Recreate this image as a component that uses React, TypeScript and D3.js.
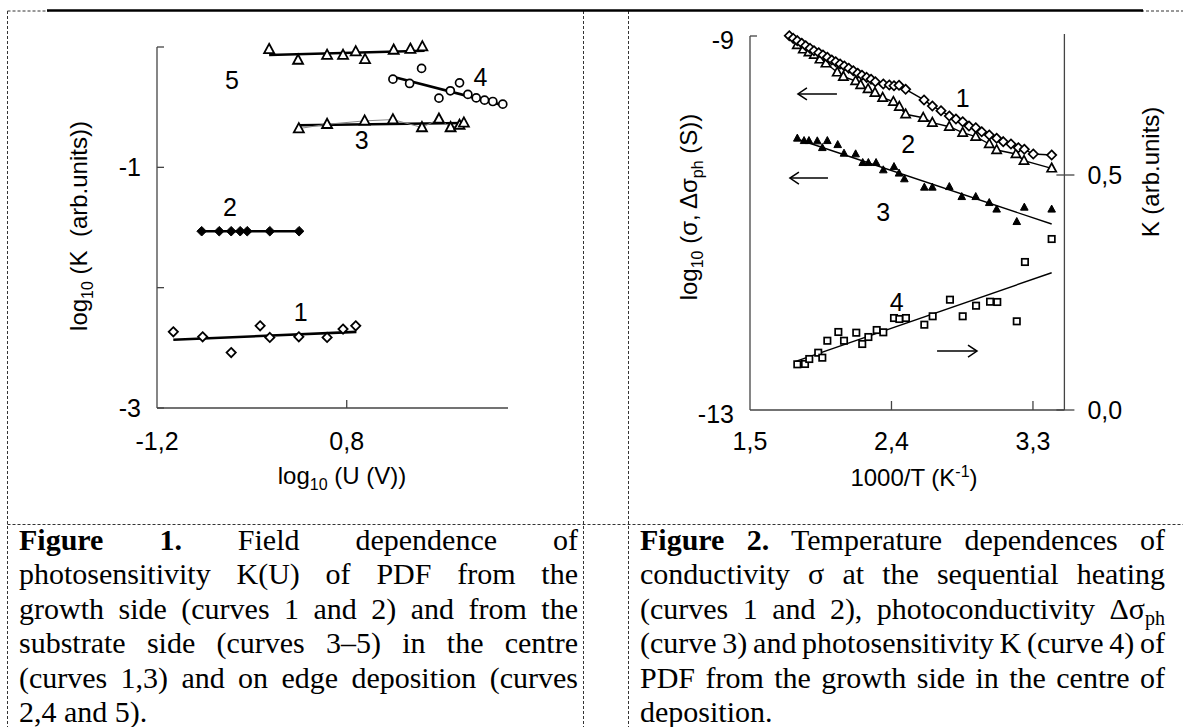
import React, { useEffect, useRef } from "react";
import * as d3 from "d3";

type P = [number, number];

// ---------------- Figure 1: log10 K vs log10 U ----------------
const fig1XTickLabels = [-1.2, 0.8];
const fig1YTicks = [-3, -2, -1, 0];
const fig1YTickLabels = [-3, -1];

const fig1Curve1: P[] = [[-1.028, -2.367], [-0.719, -2.408], [-0.418, -2.539], [-0.113, -2.317], [-0.011, -2.414], [0.295, -2.408], [0.593, -2.414], [0.761, -2.344], [0.895, -2.317]];
const fig1Fit1: P[] = [[-1.028, -2.433], [0.902, -2.367]];
const fig1Curve2: P[] = [[-0.729, -1.531], [-0.544, -1.531], [-0.418, -1.531], [-0.323, -1.531], [-0.249, -1.531], [-0.011, -1.531], [0.298, -1.531]];
const fig1Curve3: P[] = [[0.295, -0.678], [0.593, -0.642], [0.989, -0.614], [1.287, -0.603], [1.593, -0.669], [1.772, -0.598], [1.895, -0.669], [1.989, -0.65], [2.035, -0.631]];
const fig1Fit3: P[] = [[0.295, -0.65], [2.024, -0.631]];
const fig1Curve4: P[] = [[1.287, -0.267], [1.463, -0.303], [1.589, -0.178], [1.772, -0.425], [1.892, -0.364], [1.989, -0.298], [2.077, -0.394], [2.165, -0.423], [2.253, -0.442], [2.34, -0.453], [2.445, -0.475]];
const fig1Fit4: P[] = [[1.287, -0.248], [2.445, -0.483]];
const fig1Curve5: P[] = [[-0.018, -0.019], [0.287, -0.108], [0.593, -0.067], [0.761, -0.067], [0.895, -0.039], [0.993, -0.103], [1.295, -0.025], [1.471, -0.017], [1.597, 0.003]];
const fig1Fit5: P[] = [[-0.018, -0.067], [1.621, -0.031]];
const fig1CurveLabels = ["1", "2", "3", "4", "5"];
const fig1LabelPos: P[] = [[0.316, -2.2], [-0.432, -1.333], [0.958, -0.775], [2.21, -0.25], [-0.411, -0.275]];

// ---------------- Figure 2: temperature dependences ----------------
const fig2XTickLabels = [1.5, 2.4, 3.3];
const fig2YLeftTicks = [-13, -9];
const fig2YRightTicks = [0, 0.5];

const fig2Curve1: P[] = [[1.75, -8.997], [1.775, -9.025], [1.801, -9.05], [1.829, -9.078], [1.854, -9.104], [1.882, -9.132], [1.907, -9.157], [1.937, -9.179], [1.964, -9.203], [1.992, -9.228], [2.02, -9.257], [2.045, -9.275], [2.073, -9.299], [2.1, -9.321], [2.128, -9.345], [2.157, -9.371], [2.185, -9.399], [2.212, -9.42], [2.242, -9.442], [2.27, -9.463], [2.297, -9.489], [2.348, -9.513], [2.386, -9.524], [2.416, -9.532], [2.448, -9.527], [2.49, -9.57], [2.607, -9.684], [2.66, -9.749], [2.715, -9.799], [2.768, -9.856], [2.81, -9.888], [2.853, -9.917], [2.893, -9.963], [2.936, -9.981], [2.974, -10.024], [3.022, -10.059], [3.069, -10.094], [3.111, -10.13], [3.16, -10.155], [3.207, -10.195], [3.245, -10.212], [3.302, -10.262], [3.419, -10.273]];
const fig2Curve2: P[] = [[1.801, -9.096], [1.839, -9.142], [1.875, -9.174], [1.909, -9.2], [1.945, -9.249], [1.983, -9.292], [2.055, -9.388], [2.094, -9.435], [2.172, -9.481], [2.204, -9.524], [2.251, -9.567], [2.295, -9.606], [2.344, -9.66], [2.412, -9.703], [2.45, -9.756], [2.49, -9.837], [2.602, -9.874], [2.66, -9.927], [2.768, -9.97], [2.853, -10.034], [2.936, -10.077], [3.022, -10.155], [3.069, -10.219], [3.192, -10.262], [3.243, -10.334], [3.419, -10.415]];
const fig2Curve3: P[] = [[1.801, -10.094], [1.844, -10.12], [1.875, -10.12], [1.928, -10.123], [1.96, -10.195], [1.992, -10.12], [2.058, -10.163], [2.098, -10.255], [2.172, -10.262], [2.217, -10.355], [2.253, -10.355], [2.302, -10.355], [2.348, -10.433], [2.416, -10.398], [2.448, -10.468], [2.482, -10.529], [2.609, -10.618], [2.66, -10.618], [2.768, -10.612], [2.847, -10.719], [2.936, -10.719], [3.022, -10.783], [3.069, -10.853], [3.197, -10.986], [3.245, -10.832], [3.419, -10.853]];
const fig2Fit3: P[] = [[1.818, -10.112], [3.419, -11.011]];
const fig2Curve4K: P[] = [[1.801, 0.0972], [1.85, 0.0979], [1.877, 0.1085], [1.934, 0.1219], [1.96, 0.1113], [1.992, 0.1474], [2.062, 0.166], [2.098, 0.1474], [2.176, 0.1645], [2.214, 0.1404], [2.253, 0.1553], [2.306, 0.1702], [2.348, 0.1653], [2.416, 0.1957], [2.45, 0.1936], [2.492, 0.1957], [2.609, 0.1815], [2.662, 0.1994], [2.772, 0.2347], [2.853, 0.1994], [2.938, 0.2219], [3.027, 0.2304], [3.073, 0.2298], [3.197, 0.1887], [3.249, 0.3149], [3.419, 0.3638]];
const fig2Fit4K: P[] = [[1.786, 0.1028], [3.419, 0.292]];
const fig2CurveLabels = ["1", "2", "3", "4"];
const fig2LabelPos: P[] = [[2.853, -9.663], [2.507, -10.155], [2.348, -10.879], [2.433, -11.842]];
// arrows: [x start, x end, y] (left-axis units); direction from start to end
const fig2Arrows: [number, number, number][] = [[2.053, 1.805, -9.62], [1.996, 1.754, -10.519], [2.69, 2.944, -12.369]];

// ---------------- Captions ----------------
type Seg = { t: string; b?: boolean; sub?: boolean };
const caption1: Seg[][] = [
  [{ t: "Figure 1.", b: true }, { t: " Field dependence of" }],
  [{ t: "photosensitivity K(U) of PDF from the" }],
  [{ t: "growth side (curves 1 and 2) and from the" }],
  [{ t: "substrate side (curves 3\u20135) in the centre" }],
  [{ t: "(curves 1,3) and on edge deposition (curves" }],
  [{ t: "2,4 and 5)." }],
];
const caption2: Seg[][] = [
  [{ t: "Figure 2.", b: true }, { t: " Temperature dependences of" }],
  [{ t: "conductivity \u03c3 at the sequential heating" }],
  [{ t: "(curves 1 and 2), photoconductivity \u0394\u03c3" }, { t: "ph", sub: true }],
  [{ t: "(curve 3) and photosensitivity K (curve 4) of" }],
  [{ t: "PDF from the growth side in the centre of" }],
  [{ t: "deposition." }],
];

const SANS = "'Liberation Sans', Arial, sans-serif";
const SERIF = "'Liberation Serif', 'Times New Roman', serif";
const fmtComma = (v: number) => v.toFixed(1).replace(".", ",");

const diamond = (r: number) => `M0,${-r}L${r},0L0,${r}L${-r},0Z`;
const triangle = (r: number) => `M0,${-r * 1.1}L${r},${r * 0.75}L${-r},${r * 0.75}Z`;

function Caption({ lines, x, w, y0, lh }: { lines: Seg[][]; x: number; w: number; y0: number; lh: number }) {
  return (
    <g fontFamily={SERIF} fontSize={30} fill="#000">
      {lines.map((segs, i) => (
        <text
          key={i}
          className={i < lines.length - 1 ? "just" : undefined}
          data-w={w}
          x={x}
          y={y0 + i * lh}
        >
          {segs.map((s, j) => (
            <tspan key={j} fontWeight={s.b ? "bold" : undefined} fontSize={s.sub ? 20 : undefined} dy={s.sub ? 6 : undefined}>
              {s.t}
            </tspan>
          ))}
        </text>
      ))}
    </g>
  );
}

function Arrow({ x1, x2, y }: { x1: number; x2: number; y: number }) {
  const dir = Math.sign(x2 - x1);
  return (
    <g stroke="#000" strokeWidth={1.5} fill="none">
      <line x1={x1} y1={y} x2={x2} y2={y} />
      <polyline points={`${x2 - dir * 9},${y - 6} ${x2},${y} ${x2 - dir * 9},${y + 6}`} />
    </g>
  );
}

export default function App() {
  const ref = useRef<SVGSVGElement>(null);

  useEffect(() => {
    if (!ref.current) return;
    d3.select(ref.current)
      .selectAll<SVGTextElement, unknown>("text.just")
      .each(function () {
        const el = this;
        const target = +(el.getAttribute("data-w") || 0);
        const txt = el.textContent || "";
        const spaces = (txt.match(/ /g) || []).length;
        el.style.wordSpacing = "0px";
        const wNat = el.getComputedTextLength();
        if (spaces > 0) el.style.wordSpacing = `${(target - wNat) / spaces}px`;
      });
  }, []);

  // Figure 1 scales
  const x1 = d3.scaleLinear().domain([-1.2, 2.5]).range([157, 508]);
  const y1 = d3.scaleLinear().domain([-3, 0]).range([408, 47]);
  // Figure 2 scales
  const x2 = d3.scaleLinear().domain([1.5, 3.5]).range([750, 1064.4]);
  const yL = d3.scaleLinear().domain([-13, -9]).range([410, 36]);
  const yR = d3.scaleLinear().domain([0, 0.8]).range([410, 34]);

  const line1 = d3.line<P>().x((d) => x1(d[0])).y((d) => y1(d[1]));
  const line2L = d3.line<P>().x((d) => x2(d[0])).y((d) => yL(d[1]));
  const line2R = d3.line<P>().x((d) => x2(d[0])).y((d) => yR(d[1]));

  const axisCol = "#444";

  return (
    <svg
      ref={ref}
      width={1183}
      height={727}
      viewBox="0 0 1183 727"
      style={{ position: "absolute", left: 0, top: 0, background: "#fff" }}
    >
      <rect width={1183} height={727} fill="#fff" />
      {/* table borders */}
      <g stroke="#333" strokeWidth={1} strokeDasharray="3,2" fill="none">
        <line x1={7.5} y1={11} x2={49} y2={11} />
        <line x1={1141} y1={11} x2={1183} y2={11} />
        <line x1={7.5} y1={11} x2={7.5} y2={727} />
        <line x1={583.5} y1={11} x2={583.5} y2={727} />
        <line x1={628.5} y1={11} x2={628.5} y2={727} />
        <line x1={7.5} y1={524.5} x2={1183} y2={524.5} />
      </g>
      <line x1={47} y1={10.5} x2={1143} y2={10.5} stroke="#000" strokeWidth={2.5} />

      {/* ---------- Figure 1 ---------- */}
      <g fontFamily={SANS} fill="#000">
        {/* axes */}
        <line x1={x1(-1.2)} y1={y1(-3)} x2={x1(-1.2)} y2={y1(0)} stroke={axisCol} strokeWidth={1.3} />
        <line x1={x1(-1.2)} y1={y1(-3)} x2={x1(2.5)} y2={y1(-3)} stroke={axisCol} strokeWidth={1.3} />
        {fig1YTicks.map((t) => (
          <line key={t} x1={x1(-1.2)} x2={x1(-1.2) + 7} y1={y1(t)} y2={y1(t)} stroke={axisCol} strokeWidth={1.3} />
        ))}
        {fig1XTickLabels.slice(1).map((t) => (
          <line key={t} x1={x1(t)} x2={x1(t)} y1={y1(-3)} y2={y1(-3) - 8} stroke={axisCol} strokeWidth={1.3} />
        ))}
        {fig1YTickLabels.map((t) => (
          <text key={t} x={x1(-1.2) - 16} y={y1(t)} textAnchor="end" dominantBaseline="central" fontSize={25}>
            {String(t)}
          </text>
        ))}
        {fig1XTickLabels.map((t) => (
          <text key={t} x={x1(t)} y={y1(-3) + 33} textAnchor="middle" dominantBaseline="central" fontSize={25}>
            {fmtComma(t)}
          </text>
        ))}
        <text x={342} y={484} textAnchor="middle" fontSize={24}>
          log<tspan fontSize={16} dy={6}>10</tspan>
          <tspan dy={-6}> (U (V))</tspan>
        </text>
        <text transform="translate(87,226) rotate(-90)" textAnchor="middle" fontSize={24} style={{ whiteSpace: "pre" }}>
          log<tspan fontSize={16} dy={6}>10</tspan>
          <tspan dy={-6}>{" (K  (arb.units))"}</tspan>
        </text>

        {/* fits */}
        <g stroke="#000" strokeWidth={2.6} fill="none">
          <path d={line1(fig1Fit1) || ""} />
          <path d={line1(fig1Fit3) || ""} />
          <path d={line1(fig1Fit4) || ""} />
          <path d={line1(fig1Fit5) || ""} />
          <path d={line1(fig1Curve2) || ""} />
        </g>
        <path d={line1(fig1Curve3) || ""} stroke="#888" strokeWidth={1} fill="none" />

        {/* markers */}
        {fig1Curve1.map((d, i) => (
          <path key={`c1${i}`} d={diamond(4.6)} transform={`translate(${x1(d[0])},${y1(d[1])})`} fill="#fff" stroke="#000" strokeWidth={1.8} />
        ))}
        {fig1Curve2.map((d, i) => (
          <path key={`c2${i}`} d={diamond(4.8)} transform={`translate(${x1(d[0])},${y1(d[1])})`} fill="#000" stroke="#000" strokeWidth={1} />
        ))}
        {fig1Curve3.map((d, i) => (
          <path key={`c3${i}`} d={triangle(5)} transform={`translate(${x1(d[0])},${y1(d[1])})`} fill="#fff" stroke="#000" strokeWidth={1.8} />
        ))}
        {fig1Curve4.map((d, i) => (
          <circle key={`c4${i}`} cx={x1(d[0])} cy={y1(d[1])} r={4} fill="#fff" stroke="#000" strokeWidth={1.7} />
        ))}
        {fig1Curve5.map((d, i) => (
          <path key={`c5${i}`} d={triangle(5)} transform={`translate(${x1(d[0])},${y1(d[1])})`} fill="#fff" stroke="#000" strokeWidth={1.8} />
        ))}
        {fig1CurveLabels.map((l, i) => (
          <text key={`l${l}`} x={x1(fig1LabelPos[i][0])} y={y1(fig1LabelPos[i][1])} textAnchor="middle" dominantBaseline="central" fontSize={25}>
            {l}
          </text>
        ))}
      </g>

      {/* ---------- Figure 2 ---------- */}
      <g fontFamily={SANS} fill="#000">
        <line x1={x2(1.5)} y1={yL(-13)} x2={x2(1.5)} y2={yL(-9)} stroke={axisCol} strokeWidth={1.3} />
        <line x1={x2(1.5)} y1={yL(-9)} x2={x2(1.5) + 7} y2={yL(-9)} stroke={axisCol} strokeWidth={1.3} />
        <line x1={x2(1.5)} y1={yL(-13)} x2={x2(3.5)} y2={yL(-13)} stroke={axisCol} strokeWidth={1.3} />
        <line x1={x2(3.5)} y1={yR(0)} x2={x2(3.5)} y2={yR(0.8)} stroke={axisCol} strokeWidth={1.3} />
        {fig2YRightTicks.map((t) => (
          <line key={t} x1={x2(3.5) - 8} x2={x2(3.5) + 10} y1={yR(t)} y2={yR(t)} stroke={axisCol} strokeWidth={1.3} />
        ))}
        {fig2XTickLabels.slice(1).map((t) => (
          <line key={t} x1={x2(t)} x2={x2(t)} y1={yL(-13)} y2={yL(-13) - 9} stroke={axisCol} strokeWidth={1.3} />
        ))}
        {fig2YLeftTicks.map((t) => (
          <text key={t} x={x2(1.5) - 16} y={yL(t) + 4} textAnchor="end" dominantBaseline="central" fontSize={25}>
            {String(t)}
          </text>
        ))}
        {fig2YRightTicks.map((t) => (
          <text key={t} x={x2(3.5) + 23} y={yR(t)} textAnchor="start" dominantBaseline="central" fontSize={25}>
            {fmtComma(t)}
          </text>
        ))}
        {fig2XTickLabels.map((t) => (
          <text key={t} x={x2(t)} y={yL(-13) + 31} textAnchor="middle" dominantBaseline="central" fontSize={25}>
            {fmtComma(t)}
          </text>
        ))}
        <text x={914} y={486} textAnchor="middle" fontSize={24}>
          1000/T (K<tspan fontSize={16} dy={-9}>-1</tspan>
          <tspan dy={9}>)</tspan>
        </text>
        <text transform="translate(697,207) rotate(-90)" textAnchor="middle" fontSize={24}>
          log<tspan fontSize={16} dy={6}>10</tspan>
          <tspan dy={-6}> ({"\u03c3"}, {"\u0394\u03c3"}</tspan>
          <tspan fontSize={16} dy={6}>ph</tspan>
          <tspan dy={-6}> (S))</tspan>
        </text>
        <text transform="translate(1159,172) rotate(-90)" textAnchor="middle" fontSize={24}>
          K (arb.units)
        </text>

        {/* lines */}
        <g stroke="#000" strokeWidth={1.4} fill="none">
          <path d={line2L(fig2Curve2) || ""} />
          <path d={line2L(fig2Curve1) || ""} />
          <path d={line2L(fig2Fit3) || ""} />
          <path d={line2R(fig2Fit4K) || ""} />
        </g>

        {fig2Curve2.map((d, i) => (
          <path key={`t${i}`} d={triangle(4.6)} transform={`translate(${x2(d[0])},${yL(d[1])})`} fill="#fff" stroke="#000" strokeWidth={1.7} />
        ))}
        {fig2Curve1.map((d, i) => (
          <path key={`d${i}`} d={diamond(4.6)} transform={`translate(${x2(d[0])},${yL(d[1])})`} fill="#fff" stroke="#000" strokeWidth={1.7} />
        ))}
        {fig2Curve3.map((d, i) => (
          <path key={`f${i}`} d={triangle(3.8)} transform={`translate(${x2(d[0])},${yL(d[1])})`} fill="#000" stroke="#000" strokeWidth={1} />
        ))}
        {fig2Curve4K.map((d, i) => (
          <rect key={`s${i}`} x={x2(d[0]) - 3.2} y={yR(d[1]) - 3.2} width={6.4} height={6.4} fill="#fff" stroke="#000" strokeWidth={1.7} />
        ))}
        {fig2CurveLabels.map((l, i) => (
          <text key={`m${l}`} x={x2(fig2LabelPos[i][0])} y={yL(fig2LabelPos[i][1])} textAnchor="middle" dominantBaseline="central" fontSize={25}>
            {l}
          </text>
        ))}
        {fig2Arrows.map((a, i) => (
          <Arrow key={`a${i}`} x1={x2(a[0])} x2={x2(a[1])} y={yL(a[2])} />
        ))}
      </g>

      {/* captions */}
      <Caption lines={caption1} x={19} w={559} y0={549.5} lh={34.5} />
      <Caption lines={caption2} x={640} w={525} y0={549.5} lh={34.5} />
    </svg>
  );
}
